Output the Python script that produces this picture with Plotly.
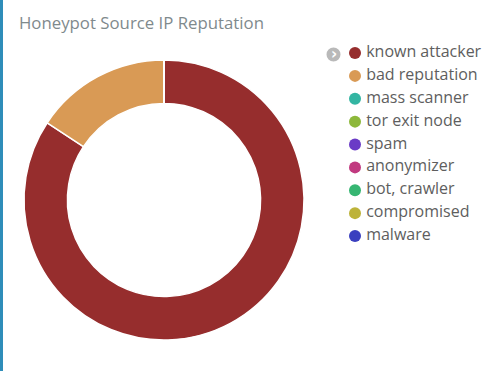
import plotly.graph_objects as go

W, H = 500, 371

labels = ["known attacker", "bad reputation", "mass scanner", "tor exit node", "spam",
          "anonymizer", "bot, crawler", "compromised", "malware"]
values = [84.3, 15.7, 0, 0, 0, 0, 0, 0, 0]
colors = ["#962d2d", "#d99a55", "#33b5a2", "#8db83b", "#6a3bc6",
          "#c13a80", "#36b672", "#bdb33a", "#3a3fbf"]
title_text = "Honeypot Source IP Reputation"

def px_x(x):
    return x / W

def px_y(y):
    return 1 - y / H

fig = go.Figure()

cx, cy, r = 164, 200, 140
fig.add_trace(go.Pie(
    labels=labels, values=values, hole=0.69, sort=False, direction="clockwise",
    rotation=0, textinfo="none", hoverinfo="label+value+percent",
    marker=dict(colors=colors, line=dict(color="white", width=1.5)),
    showlegend=False,
    domain=dict(x=[px_x(cx - r), px_x(cx + r)], y=[px_y(cy + r), px_y(cy - r)]),
))

# legend drawn as a small categorical scatter
idx = list(range(len(labels)))
fig.add_trace(go.Scatter(
    x=[0] * len(labels), y=idx, mode="markers+text",
    text=["\u2009" + l for l in labels], textposition="middle right",
    textfont=dict(size=16, color="#5e5e5e", family="Open Sans, sans-serif"),
    marker=dict(symbol="circle", size=12, color=colors, line=dict(width=0)),
    cliponaxis=False, showlegend=False, hoverinfo="skip",
    xaxis="x", yaxis="y",
))

first_row, last_row = 53, 236
fig.update_layout(
    width=W, height=H,
    margin=dict(l=0, r=0, t=0, b=0),
    paper_bgcolor="white", plot_bgcolor="rgba(0,0,0,0)",
    xaxis=dict(visible=False, domain=[px_x(350), px_x(360)], range=[-1, 1], fixedrange=True),
    yaxis=dict(visible=False, domain=[px_y(last_row), px_y(first_row)],
               range=[len(labels) - 1, 0], fixedrange=True),
    font=dict(family="Open Sans, sans-serif"),
    showlegend=False,
    annotations=[
        dict(text=title_text, x=px_x(17), y=px_y(22), xref="paper", yref="paper",
             xanchor="left", yanchor="middle", showarrow=False,
             font=dict(size=16.8, color="#7f8a8d", family="Open Sans, sans-serif")),
        dict(text="<b>›</b>", x=px_x(334), y=px_y(54), xref="paper", yref="paper",
             xanchor="center", yanchor="middle", showarrow=False,
             font=dict(size=15, color="white", family="DejaVu Sans")),
    ],
    shapes=[
        dict(type="rect", xref="paper", yref="paper", x0=0, x1=px_x(3), y0=0, y1=1,
             fillcolor="#2f8db9", line=dict(width=0), layer="above"),
        dict(type="circle", xref="paper", yref="paper",
             x0=px_x(326.5), x1=px_x(340.5), y0=px_y(61.5), y1=px_y(47.5),
             fillcolor="#b9b9b9", line=dict(width=0), layer="below"),
    ],
)

fig.write_html("out.html", config={"displayModeBar": False},
               post_script="document.body.style.margin='0';")
